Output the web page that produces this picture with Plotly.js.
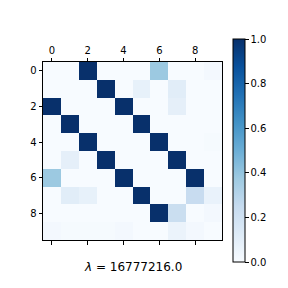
<!DOCTYPE html>
<html><head><meta charset="utf-8">
<script src="https://cdn.plot.ly/plotly-3.0.1.min.js"></script>
<style>html,body{margin:0;padding:0;background:#fff}#plot{width:288px;height:288px}</style>
</head><body><div id="plot"></div>
<script>
const rows = [0,1,2,3,4,5,6,7,8,9];
const cols = [0,1,2,3,4,5,6,7,8,9];
const row0 = [0.00,0.00,1.00,0.00,0.00,0.00,0.38,0.00,0.00,0.02];
const row1 = [0.00,0.00,0.00,1.00,0.00,0.08,0.00,0.11,0.00,0.00];
const row2 = [1.00,0.00,0.00,0.00,1.00,0.00,0.00,0.09,0.00,0.00];
const row3 = [0.00,1.00,0.00,0.00,0.00,1.00,0.00,0.00,0.00,0.00];
const row4 = [0.00,0.00,1.00,0.00,0.00,0.00,1.00,0.00,0.00,0.01];
const row5 = [0.00,0.09,0.00,1.00,0.00,0.00,0.00,1.00,0.00,0.00];
const row6 = [0.38,0.00,0.00,0.00,1.00,0.00,0.00,0.00,1.00,0.00];
const row7 = [0.00,0.11,0.08,0.00,0.00,1.00,0.00,0.00,0.24,0.07];
const row8 = [0.00,0.00,0.00,0.00,0.00,0.00,1.00,0.23,0.00,0.02];
const row9 = [0.02,0.01,0.01,0.01,0.02,0.00,0.00,0.06,0.02,0.00];
const matrix = [row0,row1,row2,row3,row4,row5,row6,row7,row8,row9];
const xTicks = [0,2,4,6,8];
const yTicks = [0,2,4,6,8];
const cbTicks = [0,0.2,0.4,0.6,0.8,1.0];
const cbLabels = ['0.0','0.2','0.4','0.6','0.8','1.0'];
const titleText = '<i>λ</i> = 16777216.0';

const blues = [
  [0,'#f7fbff'],[0.125,'#deebf7'],[0.25,'#c6dbef'],[0.375,'#9ecae1'],
  [0.5,'#6baed6'],[0.625,'#4292c6'],[0.75,'#2171b5'],[0.875,'#08519c'],[1,'#08306b']
];
const L=43, R=222, T=62, B=240;
const pw = R-L, ph = B-T;

const data = [{
  type:'heatmap', x: cols, y: rows, z: matrix, zmin:0, zmax:1,
  colorscale: blues, hoverinfo:'none',
  colorbar: {
    x: (233-L)/pw, xanchor:'left', y: (B-150.5)/ph, yanchor:'middle',
    thickness: 12, thicknessmode:'pixels', len: 223, lenmode:'pixels',
    outlinewidth: 1, outlinecolor:'#000',
    tickvals: cbTicks, ticktext: cbLabels, ticks:'outside', ticklen:3.5, tickwidth:1, tickcolor:'#000',
    tickfont:{family:'DejaVu Sans', size:10, color:'#000'}, xpad:0, ypad:0
  }
},{
  type:'scatter', x:[0], y:[0], xaxis:'x2', mode:'markers', marker:{opacity:0}, hoverinfo:'none', showlegend:false
}];

const layout = {
  width:288, height:288, margin:{l:L, r:288-R, t:T, b:288-B, pad:0},
  paper_bgcolor:'#fff', plot_bgcolor:'#fff', showlegend:false,
  font:{family:'DejaVu Sans', size:10, color:'#000'},
  xaxis:{side:'top', range:[-0.5,9.5], tickvals:xTicks, ticks:'outside', ticklen:3.5, tickwidth:1, tickcolor:'#000',
    showgrid:false, zeroline:false, showline:true, linecolor:'#000', linewidth:1, mirror:true,
    tickfont:{family:'DejaVu Sans', size:10, color:'#000'}},
  xaxis2:{overlaying:'x', side:'bottom', range:[-0.5,9.5], tickvals:xTicks, ticktext:['','','','',''], ticks:'outside', ticklen:3.5, tickwidth:1, tickcolor:'#000',
    showgrid:false, zeroline:false, showline:false},
  yaxis:{range:[9.5,-0.5], tickvals:yTicks, ticks:'outside', ticklen:3.5, tickwidth:1, tickcolor:'#000',
    showgrid:false, zeroline:false, showline:true, linecolor:'#000', linewidth:1, mirror:true,
    tickfont:{family:'DejaVu Sans', size:10, color:'#000'}},
  annotations:[{text:titleText, xref:'paper', yref:'paper', x:0.5, y:(B-267)/ph, xanchor:'center', yanchor:'middle',
    showarrow:false, font:{family:'DejaVu Sans', size:12, color:'#000'}}]
};
Plotly.newPlot('plot', data, layout, {staticPlot:true, displayModeBar:false});
</script></body></html>
